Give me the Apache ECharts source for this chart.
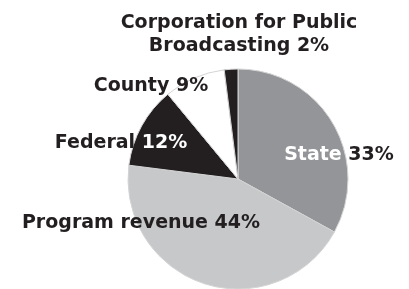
<!DOCTYPE html>
<html>
<head>
<meta charset="utf-8">
<script src="https://cdn.jsdelivr.net/npm/echarts@6/dist/echarts.min.js"></script>
<style>
  html, body { margin: 0; padding: 0; background: #fff; }
  #chart { width: 409px; height: 289px; }
</style>
</head>
<body>
<div id="chart"></div>
<script>
// revenue sources, clockwise from 12 o'clock
const names = ['State', 'Program revenue', 'Federal', 'County', 'Corporation for Public\nBroadcasting']
const shares = [33, 44, 12, 9, 2]

const sliceColors = ['#939598', '#c7c8ca', '#231f20', '#ffffff', '#231f20']
// which part of each label sits on a dark slice and is drawn white
const whiteName = [true, false, false, false, false]
const whiteValue = [false, false, true, false, false]
// label centres, px
const labelPos = [[339, 155], [141, 223], [121, 143], [151, 86], [239, 35]]

const chart = echarts.init(document.getElementById('chart'))

const textBase = {
  fontFamily: 'DejaVu Sans',
  fontWeight: 'bold',
  fontSize: 19,
  lineHeight: 23,
}

chart.setOption({
  animation: false,
  series: [{
    type: 'pie',
    center: [238, 179],
    radius: 110,
    startAngle: 90,
    clockwise: true,
    data: names.map((n, i) => ({
      name: n,
      value: shares[i],
      itemStyle: { color: sliceColors[i] },
    })),
    itemStyle: { borderColor: '#d4d4d4', borderWidth: 1 },
    label: {
      show: true,
      position: 'inside',
      align: 'center',
      overflow: 'none',
      formatter: (p) => {
        const i = p.dataIndex
        const nm = (whiteName[i] ? '{w|' : '{k|') + p.name.replace('\n', '}\n{k|') + '}'
        const val = (whiteValue[i] ? '{w|' : '{k|') + p.value + '%}'
        return nm + '{k| }' + val
      },
      rich: {
        k: { ...textBase, color: '#231f20' },
        w: { ...textBase, color: '#ffffff' },
      },
    },
    labelLine: { show: false },
    labelLayout: (params) => {
      const p = labelPos[params.dataIndex]
      return { x: p[0], y: p[1], align: 'center', verticalAlign: 'middle' }
    },
    emphasis: { disabled: true },
  }],
})
</script>
</body>
</html>
